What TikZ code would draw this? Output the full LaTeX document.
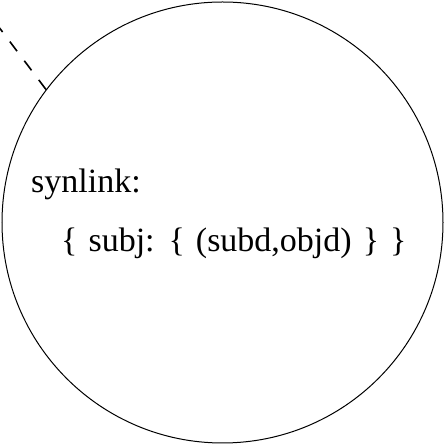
\documentclass[tikz,border=0pt]{standalone}
\usepackage{fontspec}
\setmainfont[WordSpace=1.3]{Liberation Serif}
\usetikzlibrary{positioning}

\begin{document}
\begin{tikzpicture}[
  x=1pt, y=1pt,
  blob/.style={circle, draw, line width=1pt, minimum size=441pt, inner sep=0pt},
  label/.style={font=\fontsize{34}{35}\selectfont, anchor=base west, inner sep=0pt},
  link/.style={line width=1.6pt, dash pattern=on 12pt off 12pt}
]
\useasboundingbox (0,0) rectangle (445,444);

% Circle
\node[blob] (syn) at (222.5,221.5) {};

% Text
\node[label] (name) at (31,251) {synlink:};
\node[label] (body) at (61,192.5) {\{ subj: \{ (subd,objd) \} \}};

% Link going out
\coordinate (out) at (-8,426);
\draw[link] (syn.143) -- (out);
\end{tikzpicture}
\end{document}
